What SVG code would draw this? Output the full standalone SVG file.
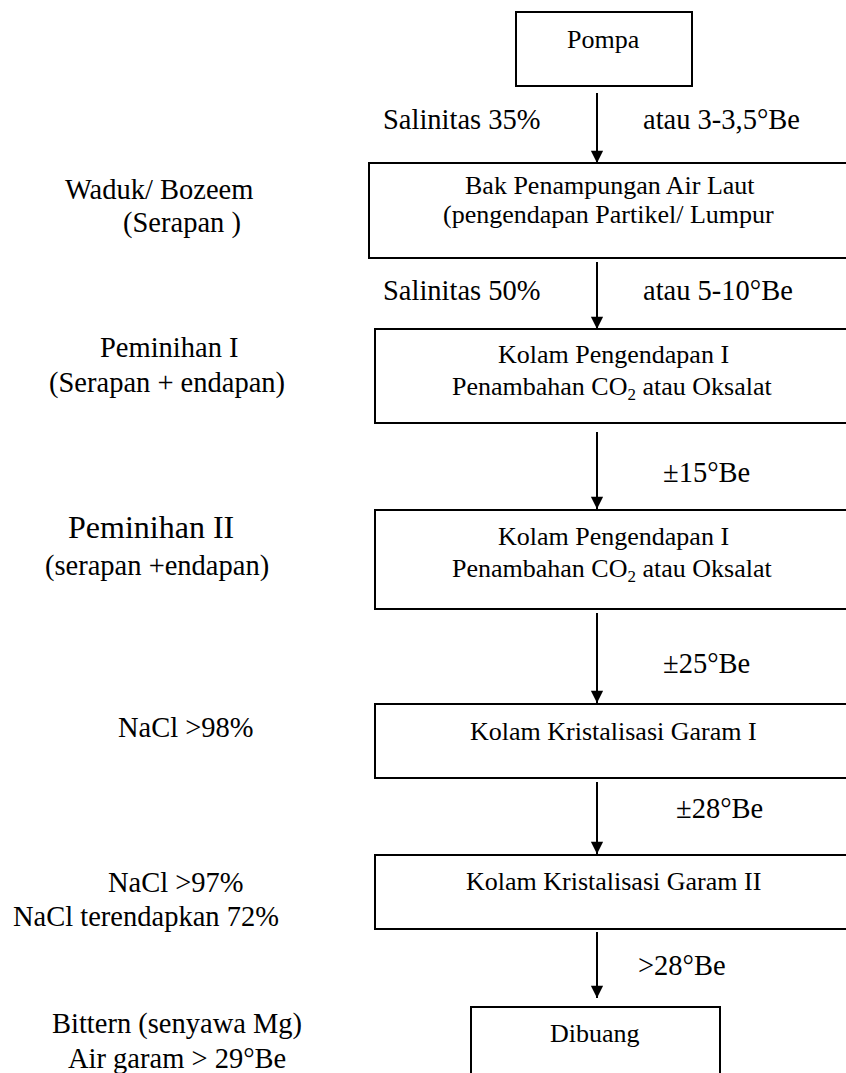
<svg xmlns="http://www.w3.org/2000/svg" width="846" height="1073" viewBox="0 0 846 1073">
<style>
text{font-family:"Liberation Serif","Times New Roman",serif;fill:#000}
.b{font-size:26px}
.l{font-size:28.5px}
.box{fill:#fff;stroke:#000;stroke-width:2}
.c{stroke:#000;stroke-width:2;fill:none}
</style>
<defs>
<marker id="ah" viewBox="0 0 14 16" refX="14" refY="7" markerWidth="16" markerHeight="14" markerUnits="userSpaceOnUse" orient="auto">
<path d="M0,0 L14,7 L0,14 z" fill="#000"/>
</marker>
</defs>
<rect width="846" height="1073" fill="#fff"/>
<g id="connectors">
<line class="c" x1="597" y1="93" x2="597" y2="163" marker-end="url(#ah)"/>
<line class="c" x1="597" y1="262" x2="597" y2="329" marker-end="url(#ah)"/>
<line class="c" x1="597" y1="432" x2="597" y2="509" marker-end="url(#ah)"/>
<line class="c" x1="597" y1="613" x2="597" y2="703" marker-end="url(#ah)"/>
<line class="c" x1="597" y1="782" x2="597" y2="854" marker-end="url(#ah)"/>
<line class="c" x1="597" y1="932" x2="597" y2="998" marker-end="url(#ah)"/>
<text class="l" x="383" y="129">Salinitas 35%</text>
<text class="l" x="643" y="129">atau 3-3,5°Be</text>
<text class="l" x="383" y="300">Salinitas 50%</text>
<text class="l" x="643" y="300">atau 5-10°Be</text>
<text class="l" x="663" y="482">±15°Be</text>
<text class="l" x="663" y="673">±25°Be</text>
<text class="l" x="676" y="818">±28°Be</text>
<text class="l" x="638" y="975">&gt;28°Be</text>
</g>
<g id="pompa">
<rect class="box" x="516" y="12" width="176" height="74"/>
<text class="b" x="567" y="48">Pompa</text>
</g>
<g id="bak">
<rect class="box" x="369" y="163" width="490" height="95"/>
<text class="b" x="465" y="194">Bak Penampungan Air Laut</text>
<text class="b" x="443" y="223">(pengendapan Partikel/ Lumpur</text>
</g>
<g id="kolam1">
<rect class="box" x="375" y="329" width="490" height="94"/>
<text class="b" x="498" y="363">Kolam Pengendapan I</text>
<text class="b" x="452" y="395">Penambahan CO<tspan font-size="17" dy="5">2</tspan><tspan dy="-5"> atau Oksalat</tspan></text>
</g>
<g id="kolam2">
<rect class="box" x="375" y="510" width="490" height="99"/>
<text class="b" x="498" y="545">Kolam Pengendapan I</text>
<text class="b" x="452" y="577">Penambahan CO<tspan font-size="17" dy="5">2</tspan><tspan dy="-5"> atau Oksalat</tspan></text>
</g>
<g id="kristal1">
<rect class="box" x="375" y="704" width="490" height="74"/>
<text class="b" x="470" y="740">Kolam Kristalisasi Garam I</text>
</g>
<g id="kristal2">
<rect class="box" x="375" y="855" width="490" height="74"/>
<text class="b" x="466" y="890">Kolam Kristalisasi Garam II</text>
</g>
<g id="dibuang">
<rect class="box" x="471" y="1007" width="249" height="90"/>
<text class="b" x="550" y="1042">Dibuang</text>
</g>
<g id="labels">
<text class="l" x="65" y="199">Waduk/ Bozeem</text>
<text class="l" x="123" y="232">(Serapan )</text>
<text class="l" x="100" y="357">Peminihan I</text>
<text class="l" x="49" y="392">(Serapan + endapan)</text>
<text class="l" x="68" y="538" style="font-size:32px">Peminihan II</text>
<text class="l" x="45" y="575">(serapan +endapan)</text>
<text class="l" x="118" y="737">NaCl &gt;98%</text>
<text class="l" x="108" y="892">NaCl &gt;97%</text>
<text class="l" x="13" y="926">NaCl terendapkan 72%</text>
<text class="l" x="52" y="1033">Bittern (senyawa Mg)</text>
<text class="l" x="68" y="1068">Air garam &gt; 29°Be</text>
</g>
</svg>
